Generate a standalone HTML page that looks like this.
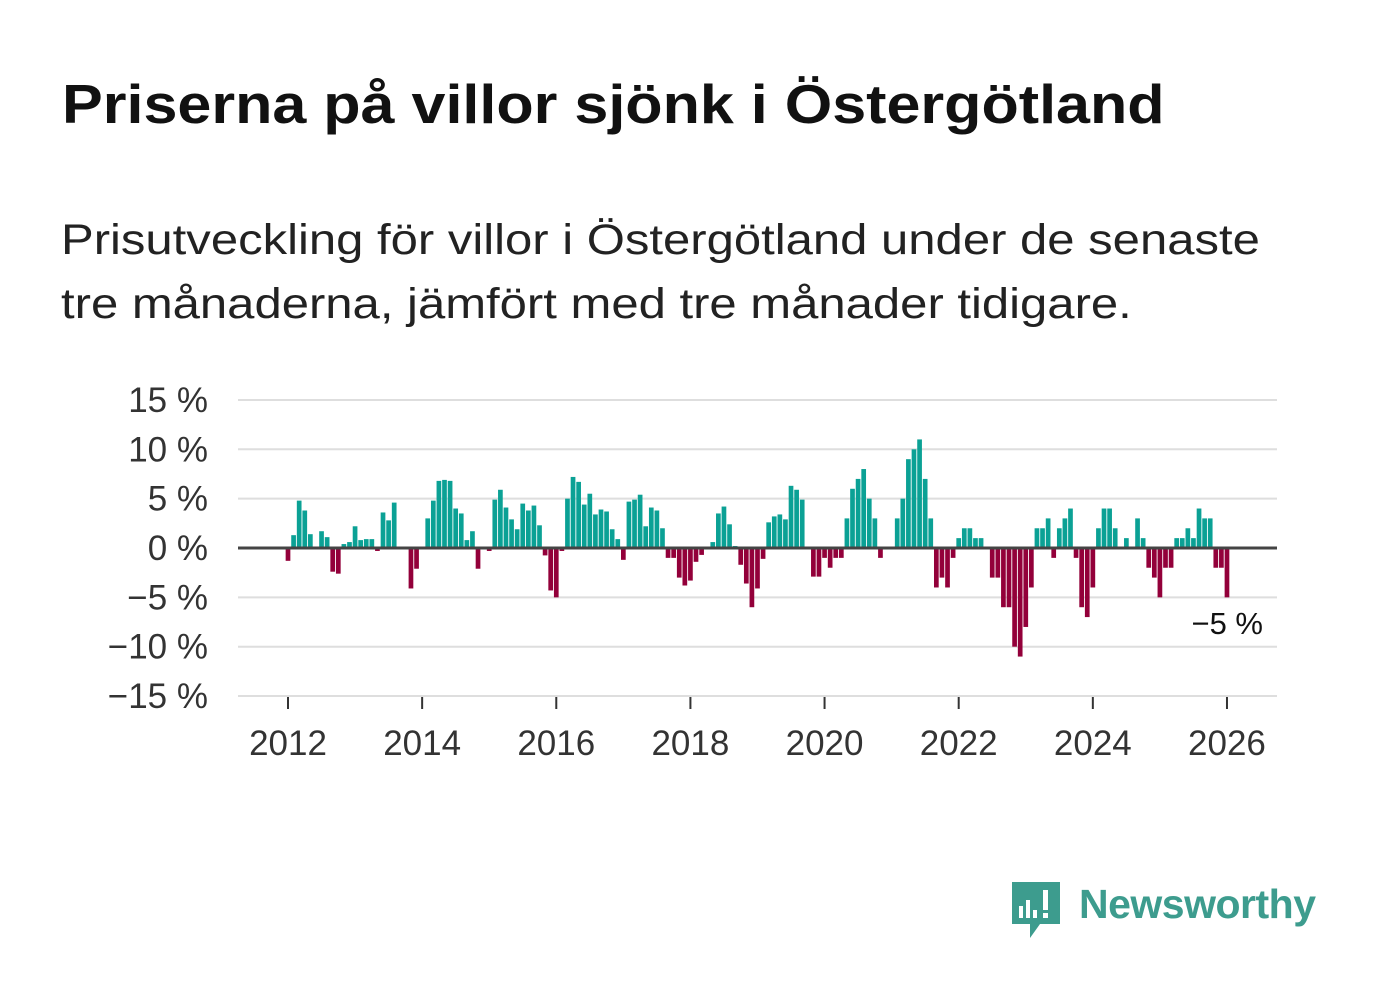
<!DOCTYPE html>
<html><head><meta charset="utf-8">
<style>
body{margin:0;background:#fff;width:1382px;height:999px;overflow:hidden;font-family:"Liberation Sans","DejaVu Sans",sans-serif}
#title{position:absolute;left:62px;top:72px;font-size:55px;font-weight:bold;color:#111;margin:0;white-space:nowrap;transform:scaleX(1.11);transform-origin:0 0}
#sub{position:absolute;left:61px;top:208px;font-size:43px;line-height:64px;color:#222;margin:0;white-space:nowrap;transform:scaleX(1.14);transform-origin:0 0}
svg{position:absolute;left:0;top:0}
</style></head><body>
<h1 id="title">Priserna på villor sjönk i Östergötland</h1>
<p id="sub">Prisutveckling för villor i Östergötland under de senaste<br>tre månaderna, jämfört med tre månader tidigare.</p>
<svg id="chart" width="1382" height="999"></svg>
<svg width="1382" height="999" style="pointer-events:none">
<g>
<path d="M1012 882 h48 v42 h-20 l-10 14 v-14 h-18 z" fill="#3d9c8e"/>
<rect x="1019" y="906" width="4" height="12" fill="#fff"/><rect x="1026" y="900" width="4" height="18" fill="#fff"/><rect x="1033" y="910" width="4" height="8" fill="#fff"/><rect x="1043" y="890" width="5" height="20" fill="#fff"/><rect x="1043" y="913" width="5" height="5" fill="#fff"/>
</g>
<text x="1079" y="918" font-size="41" font-weight="bold" fill="#3d9c8e" font-family="Liberation Sans, sans-serif" textLength="237">Newsworthy</text>
</svg>
<script>
const startYear = 2012;
const yTicks = [15,10,5,0,-5,-10,-15];
const xTickYears = [2012,2014,2016,2018,2020,2022,2024,2026];
const values = [
-1.3,1.3,4.8,3.8,1.4,0,1.7,1.1,-2.4,-2.6,0.4,0.6,
2.2,0.8,0.9,0.9,-0.3,3.6,2.8,4.6,0,0,-4.1,-2.1,
0,3.0,4.8,6.8,6.9,6.8,4.0,3.5,0.8,1.7,-2.1,0,
-0.3,4.9,5.9,4.1,2.9,1.9,4.5,3.8,4.3,2.3,-0.75,-4.3,
-5.0,-0.3,5.0,7.2,6.7,4.4,5.5,3.4,3.9,3.7,1.9,0.9,
-1.2,4.7,4.9,5.4,2.2,4.1,3.8,2.0,-1.0,-1.0,-3.0,-3.8,
-3.3,-1.4,-0.7,0,0.6,3.5,4.2,2.4,0.2,-1.7,-3.6,-6.0,
-4.1,-1.1,2.6,3.2,3.4,2.9,6.3,5.9,4.9,0,-2.9,-2.9,
-1,-2,-1,-1,3,6,7,8,5,3,-1,0,
0,3,5,9,10,11,7,3,-4,-3,-4,-1,
1,2,2,1,1,0,-3,-3,-6,-6,-10,-11,
-8,-4,2,2,3,-1,2,3,4,-1,-6,-7,
-4,2,4,4,2,0,1,0,3,1,-2,-3,
-5,-2,-2,1,1,2,1,4,3,3,-2,-2,-5];
const lastLabel = ["−5 %"];
const NS="http://www.w3.org/2000/svg";
const svg=document.getElementById('chart');
const x = yr => 288 + (yr-2012)*67.07;
const y = v => 548 - v*9.87;
function mk(t,a,p){const e=document.createElementNS(NS,t);for(const k in a)e.setAttribute(k,a[k]);(p||svg).appendChild(e);return e;}
yTicks.forEach(t=>{
  if(t!==0){const l=mk('line',{x1:238,x2:1277,y1:y(t),y2:y(t),stroke:'#dedede','stroke-width':2});
  
  }
  const tx=mk('text',{x:208,y:y(t)+12,'text-anchor':'end','font-size':35,fill:'#333'});
  tx.textContent=(t<0?'−'+(-t):t)+' %';
  
  
});
values.forEach((v,i)=>{
  const cx=x(startYear+i/12);
  const r=mk('rect',{x:cx-2.35,width:4.7,y:Math.min(y(v),y(0)),height:Math.abs(y(v)-y(0)),fill:v>=0?'#0ba195':'#93003a'});
  
  
});
const z=mk('line',{x1:238,x2:1277,y1:y(0),y2:y(0),stroke:'#444','stroke-width':3});


xTickYears.forEach(yr=>{
  const t=mk('line',{x1:x(yr),x2:x(yr),y1:697,y2:709,stroke:'#333','stroke-width':2});
  
  
  const tx=mk('text',{x:x(yr),y:755,'text-anchor':'middle','font-size':35,fill:'#333'});
  tx.textContent=yr;
  
  
});
const ll=mk('text',{x:1263,y:634,'text-anchor':'end','font-size':31,fill:'#111'});
ll.textContent=lastLabel[0];


</script>
</body></html>
